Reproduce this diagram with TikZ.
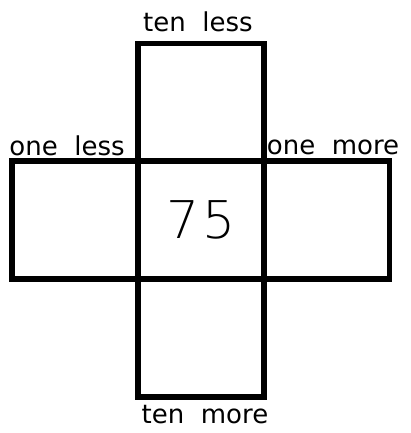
\documentclass[tikz,border=0pt]{standalone}
\usepackage{fontspec}
\setmainfont{DejaVu Sans}
\newfontfamily\thindigits{DejaVu Sans ExtraLight}
\usetikzlibrary{positioning}

\begin{document}
\begin{tikzpicture}[x=1pt,y=-1pt,
      cell/.style={draw,line width=5.5pt,minimum width=126pt,minimum height=118pt,inner sep=0pt,outer sep=0pt},
      lbl/.style={anchor=base,inner sep=0pt,font=\fontsize{26}{26}\selectfont}]
    \useasboundingbox (0,0) rectangle (411,433);
    % Cross of boxes
    \node[cell] (up)    at (201,102.5) {};
    \node[cell] (down)  at (201,338)   {};
    \node[cell] (left)  at (75,220)    {};
    \node[cell] (right) at (326.5,220) {};
    \node[cell,font=\thindigits\fontsize{52}{52}\selectfont] (mid) at (201,220) {7\kern3pt5};
    % Labels
    \node[lbl] (tenless) at (198,32)  {ten~~less};
    \node[lbl] (oneless) at (67,155)  {one~~less};
    \node[lbl] (onemore) at (333,154) {one~~more};
    \node[lbl] (tenmore) at (205,423) {ten~~more};
  \end{tikzpicture}
\end{document}
